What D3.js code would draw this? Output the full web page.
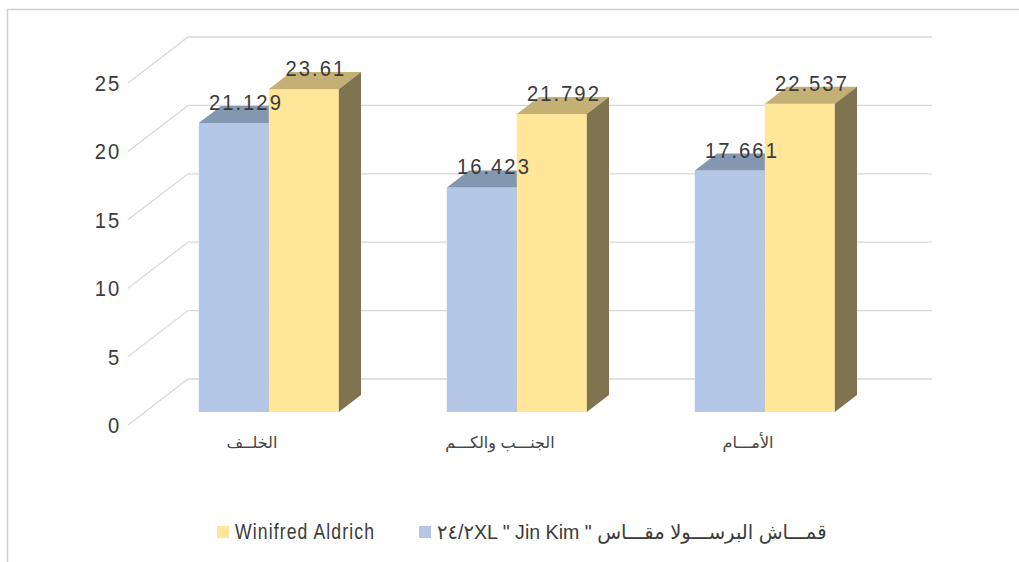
<!DOCTYPE html>
<html>
<head>
<meta charset="utf-8">
<script src="https://cdn.jsdelivr.net/npm/d3@7"></script>
<style>
  html, body { margin: 0; padding: 0; background: #fff; }
  svg { display: block; }
</style>
</head>
<body>
<svg id="chart" width="1019" height="562"></svg>
<script>
// ---- data ----
const categories = ["الخلــف", "الجنـــب والكـــم", "الأمـــام"];
const seriesNames = ['٢٤/٢XL " Jin Kim " قمـــاش البرســـولا مقـــاس', "Winifred Aldrich"];
const seriesBlue = [21.129, 16.423, 17.661];
const seriesYellow = [23.61, 21.792, 22.537];
const yTicks = [0, 5, 10, 15, 20, 25];

// ---- styles ----
const colors = [
  { front: "#B4C7E7", top: "#8497B0", side: "#6F7F99" },
  { front: "#FFE699", top: "#C4B075", side: "#7F7350" }
];
const textColor = "#3b3b3b";
const fontFamily = "'Liberation Sans', Arial, 'DejaVu Sans', sans-serif";

const svg = d3.select("#chart");

// frame
svg.append("rect")
  .attr("x", 7.5).attr("y", 9.5)
  .attr("width", 1040).attr("height", 600)
  .attr("fill", "none").attr("stroke", "#d0d0d0").attr("stroke-width", 1.5);

// 3D geometry
const frontX0 = 128, frontX1 = 872;
const depthDX = 60, depthDY = -46;
const f0 = 0.28, f1 = 0.65;

const y = d3.scaleLinear().domain([0, 25]).range([425, 83]);
const x = d3.scaleBand().domain(categories).range([frontX0, frontX1])
  .paddingInner(0.4355).paddingOuter(0.4355 / 2);
const xs = d3.scaleBand().domain([0, 1]).range([0, x.bandwidth()]);

const P = (px, v, f) => [px + f * depthDX, y(v) + f * depthDY];

// gridlines: diagonal on side wall + horizontal on back wall
const grid = svg.append("g");
yTicks.forEach(t => {
  const a = P(frontX0, t, 0), b = P(frontX0, t, 1);
  grid.append("path")
    .attr("d", `M${a[0]},${a[1]}L${b[0]},${b[1]}L${frontX1 + depthDX},${b[1]}`)
    .attr("fill", "none").attr("stroke", "#d9d9d9").attr("stroke-width", 1.3);
});

// y axis labels
svg.append("g").selectAll("text").data(yTicks).join("text")
  .attr("transform", d => `translate(121,${y(d)}) scale(0.92,1)`)
  .attr("dy", "0.36em")
  .attr("text-anchor", "end")
  .attr("font-family", fontFamily).attr("font-size", 22)
  .attr("letter-spacing", 2)
  .attr("fill", textColor)
  .text(d => d);

// bars
const series = [seriesBlue, seriesYellow];
const bars = svg.append("g");
const labels = [];
categories.forEach((c, ci) => {
  series.forEach((vals, si) => {
    const v = vals[ci];
    const x0 = x(c) + xs(si), x1 = x0 + xs.bandwidth();
    const col = colors[si];
    const poly = pts => "M" + pts.map(p => p.join(",")).join("L") + "Z";
    bars.append("path").attr("d", poly([P(x0, 0, f0), P(x1, 0, f0), P(x1, v, f0), P(x0, v, f0)]))
      .attr("fill", col.front);
    bars.append("path").attr("d", poly([P(x0, v, f0), P(x1, v, f0), P(x1, v, f1), P(x0, v, f1)]))
      .attr("fill", col.top);
    bars.append("path").attr("d", poly([P(x1, 0, f0), P(x1, v, f0), P(x1, v, f1), P(x1, 0, f1)]))
      .attr("fill", col.side);
    const fm = (f0 + f1) / 2;
    labels.push({ x: (x0 + x1) / 2 + fm * depthDX, y: y(v) + fm * depthDY - 4.5, v });
  });
});

// value labels
svg.append("g").selectAll("text").data(labels).join("text")
  .attr("transform", d => `translate(${d.x + 1},${d.y}) scale(0.92,1)`)
  .attr("text-anchor", "middle")
  .attr("font-family", fontFamily).attr("font-size", 22)
  .attr("letter-spacing", 2.2)
  .attr("fill", textColor)
  .text(d => d.v);

// category labels
svg.append("g").selectAll("text").data(categories).join("text")
  .attr("x", d => x(d) + x.bandwidth() / 2).attr("y", 448)
  .attr("text-anchor", "middle")
  .attr("font-family", fontFamily).attr("font-size", 16)
  .attr("fill", "#444")
  .text(d => d);

// legend
const legend = svg.append("g");
const legendItems = [
  { name: seriesNames[1], color: colors[1].front, sx: 217, tx: 235, ls: 1.4, fs: 22, sc: 0.8 },
  { name: seriesNames[0], color: colors[0].front, sx: 419, tx: 437, ls: 0, fs: 20, sc: 0.98 }
];
legendItems.forEach(it => {
  legend.append("rect").attr("x", it.sx).attr("y", 526).attr("width", 12).attr("height", 12)
    .attr("fill", it.color);
  legend.append("text")
    .attr("transform", `translate(${it.tx},539) scale(${it.sc},1)`)
    .attr("font-family", fontFamily).attr("font-size", it.fs)
    .attr("letter-spacing", it.ls)
    .attr("fill", textColor)
    .attr("direction", "ltr")
    .text(it.name);
});
</script>
</body>
</html>
